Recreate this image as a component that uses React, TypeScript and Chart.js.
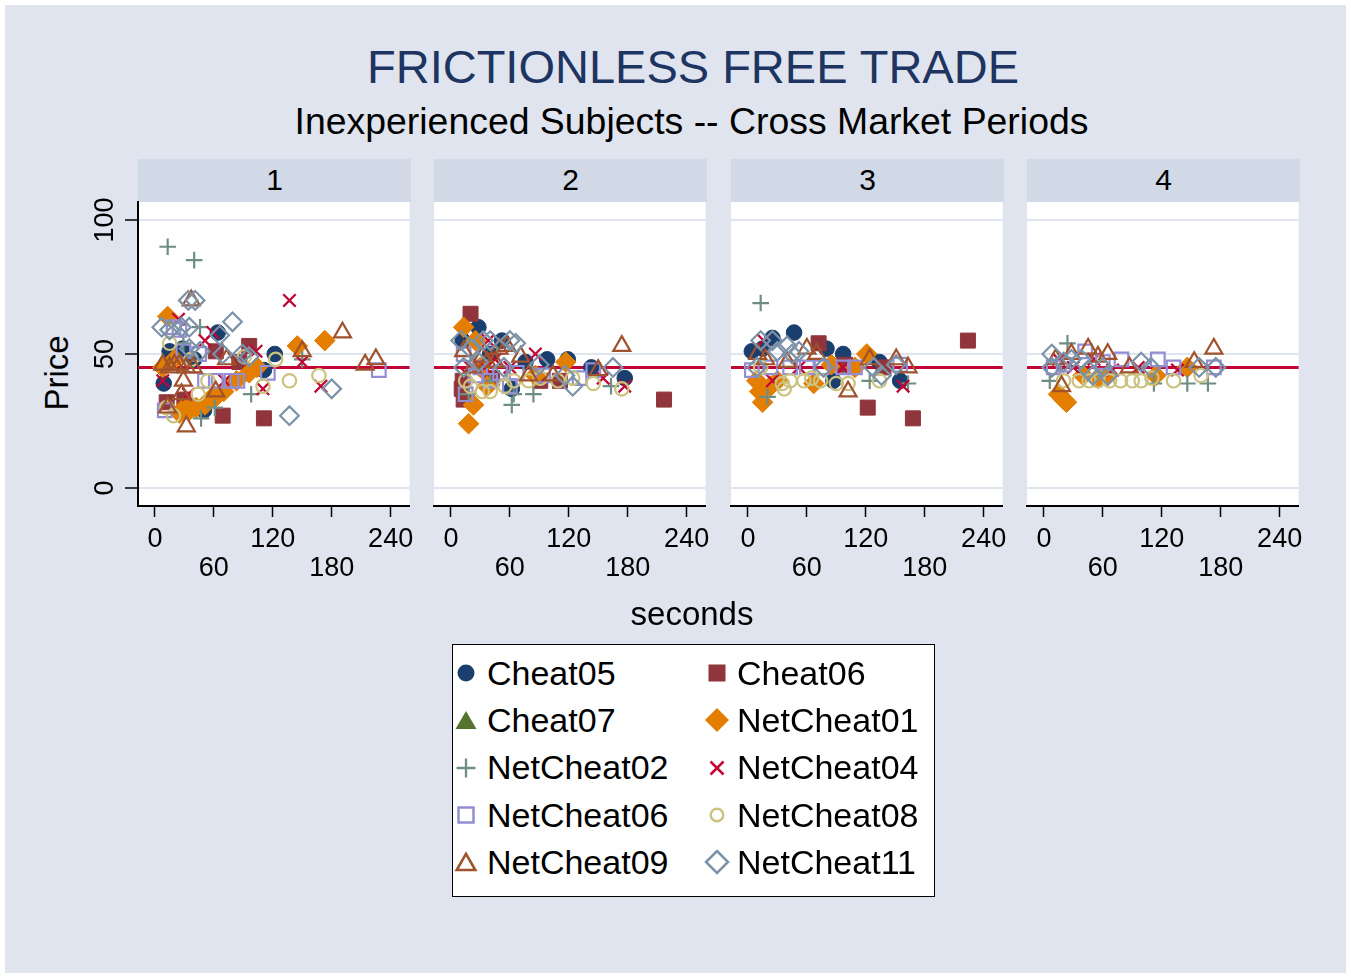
import React, { useEffect, useRef } from 'react';
import { Chart, registerables } from 'chart.js';

Chart.register(...registerables);

// ---------------- data ----------------
const PERIODS = [1, 2, 3, 4];
const X_TICKS = [0, 60, 120, 180, 240];
const Y_TICKS = [0, 50, 100];
const REFERENCE_PRICE = 45;
const TITLE = 'FRICTIONLESS FREE TRADE';
const SUBTITLE = 'Inexperienced Subjects -- Cross Market Periods';
const X_TITLE = 'seconds';
const Y_TITLE = 'Price';

// each entry: [period, seconds, price]
const CHEAT05 = [
  [1, 9, 39], [1, 15, 51], [1, 28, 52], [1, 40, 48], [1, 50, 29], [1, 64, 58], [1, 111, 44], [1, 122, 50],
  [2, 12, 55], [2, 28, 60], [2, 40, 50], [2, 52, 55], [2, 62, 37], [2, 76, 47], [2, 98, 48], [2, 119, 48], [2, 143, 45], [2, 177, 41],
  [3, 4, 51], [3, 15, 52], [3, 25, 56], [3, 47, 58], [3, 80, 52], [3, 87, 40], [3, 97, 50], [3, 134, 47], [3, 155, 40],
];
const CHEAT06 = [
  [1, 12, 32], [1, 30, 33], [1, 62, 51], [1, 69, 27], [1, 86, 47], [1, 96, 53], [1, 111, 26],
  [2, 11, 37], [2, 12, 40], [2, 13, 33], [2, 20, 65], [2, 42, 41], [2, 91, 40], [2, 111, 40], [2, 217, 33],
  [3, 72, 54], [3, 99, 46], [3, 122, 30], [3, 138, 45], [3, 168, 26], [3, 224, 55],
];
const CHEAT07: number[][] = [];
const NETCHEAT01 = [
  [1, 8, 45], [1, 13, 64], [1, 20, 48], [1, 25, 28], [1, 30, 30], [1, 35, 29], [1, 42, 30], [1, 51, 31], [1, 56, 33], [1, 62, 34], [1, 70, 36], [1, 83, 40], [1, 96, 43], [1, 104, 45], [1, 145, 53], [1, 173, 55],
  [2, 13, 60], [2, 18, 24], [2, 23, 31], [2, 25, 55], [2, 30, 45], [2, 37, 38], [2, 86, 42], [2, 117, 47],
  [3, 9, 40], [3, 12, 36], [3, 15, 32], [3, 23, 38], [3, 30, 40], [3, 67, 39], [3, 85, 46], [3, 109, 45], [3, 121, 50],
  [4, 15, 35], [4, 20, 33], [4, 23, 32], [4, 40, 42], [4, 55, 41], [4, 65, 42], [4, 114, 42], [4, 146, 45],
];
const NETCHEAT02 = [
  [1, 13, 90], [1, 29, 54], [1, 40, 85], [1, 46, 60], [1, 47, 26], [1, 61, 30], [1, 98, 35], [1, 150, 48],
  [2, 18, 35], [2, 40, 40], [2, 47, 50], [2, 62, 31], [2, 64, 35], [2, 84, 35], [2, 163, 38],
  [3, 13, 69], [3, 20, 34], [3, 124, 40], [3, 163, 39],
  [4, 6, 40], [4, 24, 54], [4, 112, 39], [4, 146, 39], [4, 167, 39],
];
const NETCHEAT04 = [
  [1, 8, 40], [1, 24, 63], [1, 34, 35], [1, 51, 55], [1, 59, 58], [1, 71, 40], [1, 103, 51], [1, 110, 37], [1, 137, 70], [1, 150, 47], [1, 169, 38],
  [2, 15, 43], [2, 20, 45], [2, 35, 45], [2, 38, 55], [2, 45, 48], [2, 60, 45], [2, 86, 50], [2, 155, 41], [2, 177, 38],
  [3, 16, 55], [3, 25, 40], [3, 52, 45], [3, 97, 45], [3, 158, 38],
  [4, 15, 48], [4, 30, 45], [4, 51, 48], [4, 70, 44], [4, 96, 45], [4, 136, 44],
];
const NETCHEAT06 = [
  [1, 10, 29], [1, 19, 60], [1, 25, 59], [1, 29, 51], [1, 45, 50], [1, 51, 40], [1, 62, 40], [1, 78, 40], [1, 84, 40], [1, 115, 43], [1, 228, 44],
  [2, 13, 50], [2, 15, 35], [2, 25, 42], [2, 30, 45], [2, 40, 40], [2, 50, 43], [2, 60, 38], [2, 67, 43], [2, 94, 42], [2, 131, 41], [2, 145, 44],
  [3, 4, 44], [3, 23, 45], [3, 43, 45], [3, 60, 45], [3, 75, 45], [3, 97, 45], [3, 109, 45], [3, 155, 46],
  [4, 10, 45], [4, 20, 46], [4, 42, 51], [4, 60, 47], [4, 79, 48], [4, 116, 48], [4, 132, 45], [4, 173, 45],
];
const NETCHEAT08 = [
  [1, 12, 30], [1, 15, 54], [1, 19, 27], [1, 37, 48], [1, 44, 35], [1, 54, 40], [1, 91, 49], [1, 110, 38], [1, 123, 48], [1, 137, 40], [1, 167, 42],
  [2, 15, 40], [2, 20, 38], [2, 32, 36], [2, 40, 36], [2, 55, 38], [2, 64, 40], [2, 79, 40], [2, 91, 41], [2, 109, 40], [2, 124, 41], [2, 145, 39], [2, 174, 37],
  [3, 13, 45], [3, 35, 39], [3, 37, 37], [3, 43, 40], [3, 57, 40], [3, 65, 41], [3, 74, 40], [3, 90, 39], [3, 102, 39], [3, 134, 40],
  [4, 20, 40], [4, 36, 40], [4, 46, 40], [4, 55, 40], [4, 67, 40], [4, 78, 40], [4, 90, 40], [4, 99, 40], [4, 110, 41], [4, 132, 40], [4, 160, 42],
];
const NETCHEAT09 = [
  [1, 8, 46], [1, 13, 30], [1, 15, 45], [1, 20, 46], [1, 25, 46], [1, 27, 35], [1, 29, 40], [1, 32, 45], [1, 32, 23], [1, 37, 70], [1, 39, 45], [1, 62, 36], [1, 73, 48], [1, 150, 51], [1, 191, 58], [1, 214, 46], [1, 225, 48],
  [2, 13, 51], [2, 22, 45], [2, 32, 49], [2, 37, 47], [2, 45, 47], [2, 49, 52], [2, 57, 53], [2, 71, 49], [2, 79, 42], [2, 104, 42], [2, 150, 44], [2, 174, 53],
  [3, 10, 50], [3, 18, 48], [3, 40, 47], [3, 60, 52], [3, 70, 50], [3, 102, 36], [3, 124, 48], [3, 151, 48], [3, 163, 45],
  [4, 12, 48], [4, 18, 38], [4, 28, 50], [4, 45, 52], [4, 55, 49], [4, 65, 50], [4, 87, 45], [4, 153, 47], [4, 173, 52],
];
const NETCHEAT11 = [
  [1, 7, 60], [1, 15, 59], [1, 27, 60], [1, 34, 70], [1, 35, 60], [1, 35, 52], [1, 41, 70], [1, 46, 51], [1, 66, 57], [1, 69, 50], [1, 79, 62], [1, 89, 50], [1, 96, 49], [1, 137, 27], [1, 180, 37],
  [2, 10, 55], [2, 13, 45], [2, 20, 52], [2, 28, 47], [2, 33, 55], [2, 40, 55], [2, 54, 45], [2, 60, 55], [2, 66, 54], [2, 90, 46], [2, 116, 42], [2, 124, 38], [2, 165, 45],
  [3, 9, 45], [3, 13, 55], [3, 25, 55], [3, 30, 51], [3, 40, 53], [3, 45, 50], [3, 52, 51], [3, 77, 45], [3, 128, 45], [3, 136, 42], [3, 151, 46],
  [4, 8, 50], [4, 8, 45], [4, 20, 47], [4, 28, 48], [4, 38, 48], [4, 45, 44], [4, 50, 42], [4, 60, 45], [4, 65, 42], [4, 99, 47], [4, 109, 45], [4, 158, 45], [4, 175, 45],
];

// ---------------- styles ----------------
type Shape = 'circle' | 'rect' | 'triangle' | 'rectRot' | 'cross' | 'crossRot';
interface SeriesDef { name: string; data: number[][]; color: string; shape: Shape; filled: boolean; radius: number; }

const SERIES: SeriesDef[] = [
  { name: 'Cheat05', data: CHEAT05, color: '#1a3f6f', shape: 'circle', filled: true, radius: 7.8 },
  { name: 'Cheat06', data: CHEAT06, color: '#90353b', shape: 'rect', filled: true, radius: 10.6 },
  { name: 'Cheat07', data: CHEAT07, color: '#55752f', shape: 'triangle', filled: true, radius: 9.8 },
  { name: 'NetCheat01', data: NETCHEAT01, color: '#e37e00', shape: 'rectRot', filled: true, radius: 10.3 },
  { name: 'NetCheat02', data: NETCHEAT02, color: '#6e8e84', shape: 'cross', filled: false, radius: 8.3 },
  { name: 'NetCheat04', data: NETCHEAT04, color: '#c10534', shape: 'crossRot', filled: false, radius: 8.8 },
  { name: 'NetCheat06', data: NETCHEAT06, color: '#938dd2', shape: 'rect', filled: false, radius: 9.6 },
  { name: 'NetCheat08', data: NETCHEAT08, color: '#cac27e', shape: 'circle', filled: false, radius: 6.7 },
  { name: 'NetCheat09', data: NETCHEAT09, color: '#a0522d', shape: 'triangle', filled: false, radius: 9.8 },
  { name: 'NetCheat11', data: NETCHEAT11, color: '#7b92a8', shape: 'rectRot', filled: false, radius: 9.3 },
];

const FONT = '"Liberation Sans", Arial, Helvetica, sans-serif';
const BG = '#dfe4ee';
const STRIP_BG = '#d1d8e6';
const GRID = '#dfe4ee';
const REF_COLOR = '#c10534';
const TITLE_COLOR = '#1e3461';

const PANEL_LEFTS = [138, 434, 731, 1027];
const PANEL_W = 273;
const PANEL_TOP = 202;
const PANEL_H = 304;
const PAD_TOP = 24;
const X_AXIS_H = 90;
const X_MIN = -17.2;
const X_MAX = 259.3;
const Y_MIN = -6.7;
const Y_MAX = 106.7;

const panelDecor = {
  id: 'panelDecor',
  beforeDraw(chart: any) {
    const { ctx, chartArea: a } = chart;
    ctx.save();
    ctx.fillStyle = '#ffffff';
    ctx.fillRect(a.left, a.top, a.right - a.left, a.bottom - a.top);
    ctx.restore();
  },
  beforeDatasetsDraw(chart: any) {
    const { ctx, chartArea: a } = chart;
    const y = chart.scales.y.getPixelForValue(REFERENCE_PRICE);
    ctx.save();
    ctx.strokeStyle = REF_COLOR;
    ctx.lineWidth = 3;
    ctx.beginPath();
    ctx.moveTo(a.left, y);
    ctx.lineTo(a.right, y);
    ctx.stroke();
    ctx.restore();
  },
  afterDraw(chart: any, _args: any, opts: any) {
    if (!opts || !opts.yLabels) return;
    const { ctx, chartArea: a } = chart;
    const ys = chart.scales.y;
    ctx.save();
    ctx.font = `27px ${FONT}`;
    ctx.fillStyle = '#000';
    ctx.textAlign = 'center';
    ctx.textBaseline = 'alphabetic';
    for (const v of Y_TICKS) {
      const py = ys.getPixelForValue(v);
      ctx.save();
      ctx.translate(a.left - 25, py);
      ctx.rotate(-Math.PI / 2);
      ctx.fillText(String(v), 0, 0);
      ctx.restore();
    }
    ctx.restore();
  },
};

function Panel({ index }: { index: number }) {
  const ref = useRef<HTMLCanvasElement>(null);
  const padL = index === 0 ? 45 : 12;
  const axisW = index === 0 ? 13 : 0;
  const padR = 12;
  const width = padL + axisW + PANEL_W + padR;
  const height = PAD_TOP + PANEL_H + X_AXIS_H;

  useEffect(() => {
    const period = PERIODS[index];
    const datasets = SERIES.map((s, i) => ({
      label: s.name,
      data: s.data.filter((d) => d[0] === period).map((d) => ({ x: d[1], y: d[2] })),
      pointStyle: s.shape,
      pointRadius: s.radius,
      pointHoverRadius: s.radius,
      pointBackgroundColor: s.filled ? s.color : 'rgba(0,0,0,0)',
      pointBorderColor: s.color,
      pointBorderWidth: s.filled ? 1 : 2.2,
      showLine: false,
      clip: false,
      order: SERIES.length - i,
    }));
    const chart = new Chart(ref.current as HTMLCanvasElement, {
      type: 'scatter',
      data: { datasets },
      options: {
        animation: false,
        responsive: false,
        devicePixelRatio: 1,
        events: [],
        layout: { autoPadding: false, padding: { left: padL, right: padR, top: PAD_TOP, bottom: 0 } },
        plugins: {
          legend: { display: false },
          tooltip: { enabled: false },
          title: { display: false },
          panelDecor: { yLabels: index === 0 },
        } as any,
        scales: {
          x: {
            type: 'linear',
            position: 'bottom',
            min: X_MIN,
            max: X_MAX,
            afterBuildTicks: (s: any) => { s.ticks = X_TICKS.map((v) => ({ value: v })); },
            afterFit: (s: any) => { s.height = X_AXIS_H; },
            grid: { display: true, drawOnChartArea: false, drawTicks: true, tickLength: 11, tickColor: '#000', tickWidth: 1.5 },
            border: { display: true, color: '#000', width: 2 },
            ticks: {
              autoSkip: false,
              maxRotation: 0,
              minRotation: 0,
              padding: 9,
              color: '#000',
              font: { family: FONT, size: 27, lineHeight: 1.04 },
              callback: (v: any) => (Number(v) % 120 === 0 ? String(v) : ['', String(v)]),
            },
          },
          y: {
            type: 'linear',
            min: Y_MIN,
            max: Y_MAX,
            afterBuildTicks: (s: any) => { s.ticks = Y_TICKS.map((v) => ({ value: v })); },
            afterFit: (s: any) => { s.width = axisW; },
            grid: { color: GRID, lineWidth: 2, drawTicks: index === 0, tickLength: 13, tickColor: '#000', tickWidth: 1.5 },
            border: { display: index === 0, color: '#000', width: 2 },
            ticks: { display: false },
          },
        },
      } as any,
      plugins: [panelDecor],
    });
    return () => chart.destroy();
  }, []);

  return (
    <canvas
      ref={ref}
      width={width}
      height={height}
      style={{ position: 'absolute', left: PANEL_LEFTS[index] - padL - axisW, top: PANEL_TOP - PAD_TOP, width, height }}
    />
  );
}

function Text({ x, y, size, color = '#000', rotate = false, align = 'center', children }: any) {
  const tx = align === 'center' ? '-50%' : '0';
  return (
    <div
      style={{
        position: 'absolute', left: x, top: y,
        transform: `translate(${tx},-50%)${rotate ? ' rotate(-90deg)' : ''}`,
        fontFamily: FONT, fontSize: size, lineHeight: 1, whiteSpace: 'nowrap', color,
      }}
    >
      {children}
    </div>
  );
}

function LegendMarker({ s }: { s: SeriesDef }) {
  const c = 15;
  let el: any = null;
  if (s.shape === 'circle') {
    el = s.filled
      ? <circle cx={c} cy={c} r={8.5} fill={s.color} />
      : <circle cx={c} cy={c} r={6.3} fill="none" stroke={s.color} strokeWidth={2.4} />;
  } else if (s.shape === 'rect') {
    el = s.filled
      ? <rect x={c - 8.5} y={c - 8.5} width={17} height={17} fill={s.color} />
      : <rect x={c - 7.5} y={c - 7.5} width={15} height={15} fill="none" stroke={s.color} strokeWidth={2.5} />;
  } else if (s.shape === 'triangle') {
    const hw = s.filled ? 10.5 : 9.3;
    const h = hw * Math.sqrt(3);
    const pts = `${c},${c - h / 2} ${c + hw},${c + h / 2} ${c - hw},${c + h / 2}`;
    el = s.filled
      ? <polygon points={pts} fill={s.color} />
      : <polygon points={pts} fill="none" stroke={s.color} strokeWidth={2.6} />;
  } else if (s.shape === 'rectRot') {
    const r = s.filled ? 12 : 11;
    const pts = `${c},${c - r} ${c + r},${c} ${c},${c + r} ${c - r},${c}`;
    el = s.filled
      ? <polygon points={pts} fill={s.color} />
      : <polygon points={pts} fill="none" stroke={s.color} strokeWidth={2.5} />;
  } else if (s.shape === 'cross') {
    el = <path d={`M${c - 9.5},${c} H${c + 9.5} M${c},${c - 9.5} V${c + 9.5}`} stroke={s.color} strokeWidth={2.3} fill="none" />;
  } else if (s.shape === 'crossRot') {
    el = <path d={`M${c - 6.5},${c - 6.5} L${c + 6.5},${c + 6.5} M${c + 6.5},${c - 6.5} L${c - 6.5},${c + 6.5}`} stroke={s.color} strokeWidth={2.5} fill="none" />;
  }
  return <svg width={30} height={30} style={{ display: 'block' }}>{el}</svg>;
}

function Legend() {
  const left = 452, top = 644, w = 483, h = 253;
  const colMarkerX = [466, 716.5];
  const colTextX = [487, 737];
  const baseline0 = 685, rowStep = 47.1;
  return (
    <>
      <div style={{ position: 'absolute', left, top, width: w, height: h, boxSizing: 'border-box', border: '1.5px solid #000', background: '#fff' }} />
      {SERIES.map((s, i) => {
        const col = i % 2;
        const row = Math.floor(i / 2);
        const baseline = baseline0 + row * rowStep;
        const cy = baseline - 11.7;
        return (
          <React.Fragment key={s.name}>
            <div style={{ position: 'absolute', left: colMarkerX[col] - 15, top: cy - 15, width: 30, height: 30 }}>
              <LegendMarker s={s} />
            </div>
            <Text x={colTextX[col]} y={baseline - 11.8} size={34} align="left">{s.name}</Text>
          </React.Fragment>
        );
      })}
    </>
  );
}

export default function App() {
  return (
    <div style={{ position: 'absolute', left: 0, top: 0, width: 1351, height: 978, background: '#fff', overflow: 'hidden' }}>
      <div style={{ position: 'absolute', left: 5, top: 5, width: 1341, height: 968, background: BG }} />
      <Text x={693} y={66} size={47} color={TITLE_COLOR}>{TITLE}</Text>
      <Text x={691.5} y={121.5} size={37.4}>{SUBTITLE}</Text>
      {PERIODS.map((p, k) => (
        <React.Fragment key={p}>
          <div style={{ position: 'absolute', left: PANEL_LEFTS[k], top: 159, width: PANEL_W, height: 43, background: STRIP_BG }} />
          <Text x={PANEL_LEFTS[k] + PANEL_W / 2} y={180} size={30}>{String(p)}</Text>
        </React.Fragment>
      ))}
      {PERIODS.map((p, k) => <Panel key={p} index={k} />)}
      <Text x={55.5} y={372.5} size={33} rotate>{Y_TITLE}</Text>
      <Text x={692} y={613} size={33}>{X_TITLE}</Text>
      <Legend />
    </div>
  );
}
